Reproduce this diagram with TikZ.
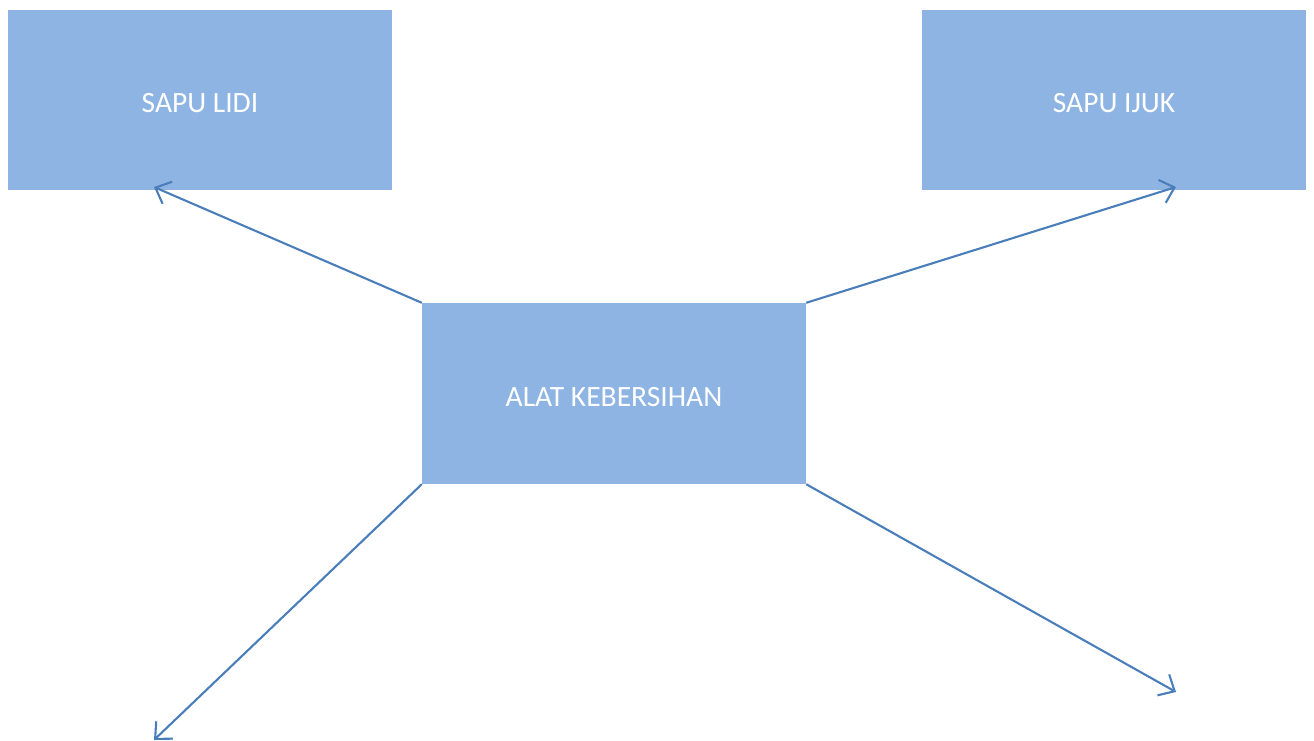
\documentclass[tikz,border=0pt]{standalone}
\usepackage{fontspec}
\setmainfont{Carlito}
\usetikzlibrary{arrows.meta}
\definecolor{boxfill}{HTML}{8EB4E3}
\definecolor{linec}{HTML}{4A7EBB}
\begin{document}
\begin{tikzpicture}[x=1pt,y=-1pt,
  box/.style={fill=boxfill,draw=none,minimum width=384pt,minimum height=180pt,inner sep=0pt,text=white,text height=25pt,text depth=0pt,font=\fontsize{29.5}{34}\selectfont},
  conn/.style={draw=linec,line width=2.1pt,-{Straight Barb[length=13pt,width=24pt,line width=2.1pt]}}]
\useasboundingbox (0,0) rectangle (1314,740);
\node[box] (lidi) at (200,99.5) {SAPU LIDI};
\node[box] (ijuk) at (1114,99.5) {SAPU IJUK};
\node[box,minimum height=181pt] (alat) at (614,393.5) {ALAT KEBERSIHAN};
\coordinate (e1) at (154,187);
\coordinate (e2) at (1176,187);
\coordinate (e3) at (154,740);
\coordinate (e4) at (1176,692);
\draw[conn] (alat.north west) -- (e1);
\draw[conn] (alat.north east) -- (e2);
\draw[conn] (alat.south west) -- (e3);
\draw[conn] (alat.south east) -- (e4);
\end{tikzpicture}
\end{document}
